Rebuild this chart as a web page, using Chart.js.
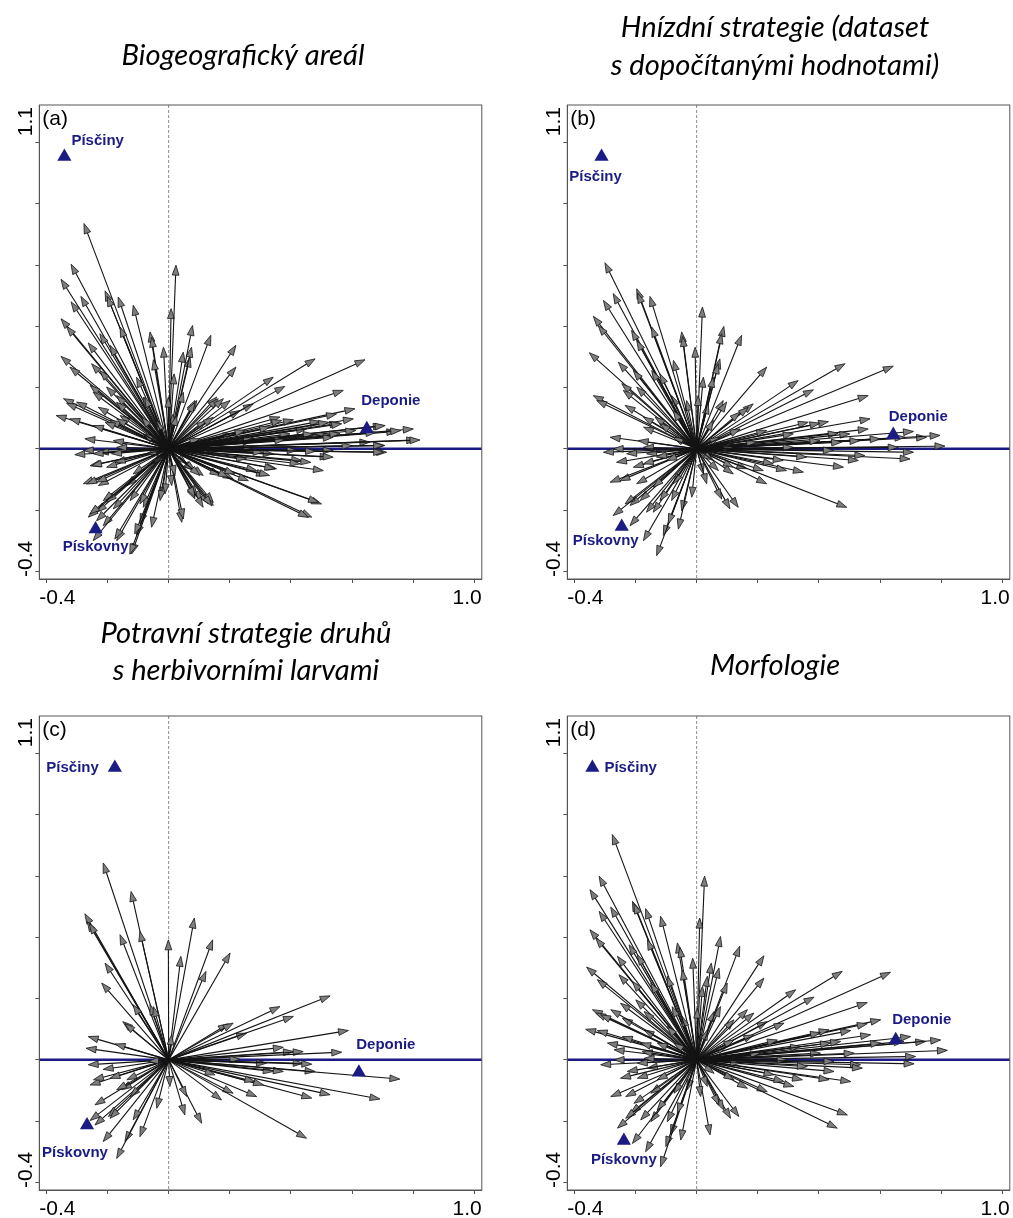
<!DOCTYPE html>
<html>
<head>
<meta charset="utf-8">
<script src="https://cdn.jsdelivr.net/npm/chart.js@4.4.1/dist/chart.umd.min.js"></script>
<style>
  html, body { margin: 0; padding: 0; background: #fff; overflow: hidden; }
  #wrap { position: relative; width: 1013px; height: 1218px; overflow: hidden; }
  canvas { position: absolute; }
</style>
</head>
<body>
<div id="wrap">
  <canvas id="pa" width="490" height="610" style="left:0;top:0"></canvas>
  <canvas id="pb" width="490" height="610" style="left:528px;top:0"></canvas>
  <canvas id="pc" width="490" height="607" style="left:0;top:611px"></canvas>
  <canvas id="pd" width="490" height="607" style="left:528px;top:611px"></canvas>
</div>
<script>
// hodnoty (skóre druhů = konce šipek, skóre stanovišť)
const tickValues = [-0.4, -0.2, 0, 0.2, 0.4, 0.6, 0.8, 1.0];
const xTickLabels = ['-0.4', '1.0'];
const yTickLabels = ['-0.4', '1.1'];
const siteNames = ['Písčiny', 'Deponie', 'Pískovny'];

const sitesA = [[-0.341, 0.954], [0.648, 0.065], [-0.239, -0.262]];
const sitesB = [[-0.311, 0.954], [0.643, 0.046], [-0.245, -0.254]];
const sitesC = [[-0.176, 0.954], [0.622, -0.041], [-0.267, -0.213]];
const sitesD = [[-0.341, 0.954], [0.651, 0.065], [-0.238, -0.264]];

const arrowsA = [
  [-0.277, 0.736], [-0.319, 0.603], [-0.352, 0.554], [-0.319, 0.480], [-0.287, 0.498],
  [-0.352, 0.425], [-0.334, 0.400], [-0.352, 0.302], [-0.323, 0.267], [-0.263, 0.346],
  [-0.252, 0.278], [-0.225, 0.376], [-0.192, 0.338], [-0.208, 0.516], [-0.201, 0.498],
  [-0.165, 0.496], [-0.159, 0.398], [-0.116, 0.469], [-0.061, 0.382], [-0.056, 0.365],
  [-0.017, 0.332], [-0.050, 0.291], [0.008, 0.458], [0.024, 0.600], [0.078, 0.403],
  [0.048, 0.316], [0.070, 0.300], [0.075, 0.332], [0.138, 0.371], [0.220, 0.338],
  [0.220, 0.267], [-0.257, 0.207], [-0.225, 0.256], [-0.203, 0.202], [-0.170, 0.174],
  [-0.083, 0.169], [-0.105, 0.234], [-0.001, 0.169], [0.015, 0.114], [0.092, 0.158],
  [0.157, 0.169], [0.201, 0.158], [0.233, 0.125], [0.277, 0.147], [0.342, 0.234],
  [0.380, 0.204], [0.479, 0.294], [0.642, 0.291], [0.571, 0.191], [0.609, 0.131],
  [0.549, 0.114], [0.364, 0.104], [0.408, 0.095], [0.495, 0.090], [0.560, 0.084],
  [0.702, 0.076], [0.746, 0.057], [0.800, 0.065], [0.658, 0.022], [0.811, 0.029],
  [0.707, 0.011], [0.713, -0.011], [0.451, 0.065], [0.397, 0.049], [0.473, 0.044],
  [0.538, -0.005], [0.528, -0.027], [0.435, -0.038], [0.506, -0.071], [0.353, -0.065],
  [0.320, -0.087], [0.288, -0.071], [0.211, -0.098], [0.168, -0.087], [0.500, -0.180],
  [0.468, -0.223], [0.146, -0.185], [0.130, -0.180], [0.108, -0.169], [0.092, -0.153],
  [0.043, -0.240], [0.010, -0.120], [0.081, -0.071], [-0.023, -0.158], [-0.012, -0.147],
  [-0.056, -0.256], [-0.083, -0.191], [-0.094, -0.245], [-0.105, -0.283], [-0.121, -0.343],
  [-0.170, -0.300], [-0.126, -0.169], [-0.137, -0.120], [-0.181, -0.196], [-0.214, -0.251],
  [-0.235, -0.207], [-0.263, -0.223], [-0.203, -0.174], [-0.279, -0.114], [-0.230, -0.120],
  [-0.257, -0.055], [-0.203, -0.060], [-0.175, -0.044], [-0.274, 0.033], [-0.181, 0.027],
  [-0.279, -0.005], [-0.230, -0.011], [-0.170, 0.005], [-0.368, 0.109], [-0.323, 0.098],
  [-0.344, 0.164], [-0.334, 0.149], [-0.301, 0.153], [-0.192, 0.093], [-0.159, 0.109],
  [-0.246, 0.076], [-0.083, 0.049], [0.102, 0.033], [0.146, -0.016], [0.059, -0.049],
  [-0.050, -0.049], [-0.072, -0.016], [0.124, 0.093], [0.211, 0.049], [0.277, 0.005],
  [0.342, -0.016], [0.255, -0.033], [-0.039, 0.093], [-0.116, -0.082], [0.277, 0.038],
  [0.018, 0.245], [-0.247, 0.185], [-0.170, 0.152], [-0.230, 0.136], [-0.208, 0.087],
  [-0.170, 0.098], [-0.078, 0.169], [0.086, 0.158], [0.162, 0.164], [0.048, 0.185],
  [-0.088, 0.103], [0.026, 0.109], [0.179, 0.164], [0.086, 0.152], [0.146, 0.103],
  [0.604, 0.098], [0.370, 0.093], [0.523, 0.087], [0.566, 0.082], [0.708, 0.076],
  [0.759, 0.060], [0.612, 0.060], [0.678, 0.054], [0.822, 0.029], [0.703, 0.011],
  [0.538, 0.038], [0.473, 0.049], [0.331, 0.071], [0.703, -0.011], [0.538, -0.027],
  [0.309, -0.011], [0.465, -0.044], [0.430, -0.049], [0.490, -0.175], [0.457, -0.224],
  [0.347, -0.065], [0.330, -0.087], [0.261, -0.104], [0.217, -0.082], [0.113, -0.087],
  [0.146, -0.175], [0.113, -0.191], [0.086, -0.164], [0.048, -0.229], [0.021, -0.087],
  [0.086, -0.071], [0.420, -0.005], [0.480, -0.008], [-0.307, -0.019], [-0.247, -0.016],
  [-0.187, -0.016], [-0.252, -0.055], [-0.268, -0.115], [-0.236, -0.109], [-0.214, -0.169],
  [-0.258, -0.213], [-0.236, -0.235], [-0.247, -0.300], [-0.176, -0.294], [-0.127, -0.344],
  [-0.111, -0.278], [-0.028, -0.169], [-0.094, -0.180], [0.086, -0.158], [0.141, -0.186],
  [0.102, -0.087], [0.195, -0.093], [0.250, 0.060], [0.380, 0.030], [0.600, 0.010],
  [0.560, 0.050]
];

const arrowsB = [
  [-0.300, 0.608], [-0.196, 0.523], [-0.193, 0.509], [-0.153, 0.498], [-0.273, 0.507],
  [-0.305, 0.485], [-0.338, 0.433], [-0.322, 0.403], [-0.351, 0.314], [-0.256, 0.283],
  [-0.213, 0.387], [-0.196, 0.354], [-0.147, 0.398], [-0.207, 0.256], [-0.147, 0.256],
  [-0.245, 0.213], [-0.240, 0.191], [-0.196, 0.202], [-0.338, 0.174], [-0.327, 0.158],
  [-0.234, 0.142], [-0.174, 0.104], [-0.136, 0.104], [-0.082, 0.174], [-0.049, 0.382],
  [-0.046, 0.367], [-0.005, 0.332], [0.019, 0.463], [0.089, 0.400], [0.082, 0.376],
  [0.147, 0.371], [0.076, 0.294], [0.071, 0.278], [0.022, 0.234], [0.005, 0.174],
  [0.038, 0.147], [0.087, 0.158], [0.098, 0.153], [0.229, 0.267], [0.332, 0.223],
  [0.382, 0.193], [0.485, 0.278], [0.643, 0.270], [0.561, 0.174], [0.567, 0.098],
  [0.185, 0.147], [0.169, 0.136], [0.142, 0.120], [0.365, 0.087], [0.431, 0.089],
  [0.403, 0.084], [0.561, 0.065], [0.463, 0.051], [0.501, 0.049], [0.709, 0.057],
  [0.752, 0.038], [0.796, 0.044], [0.681, 0.038], [0.600, 0.033], [0.534, 0.027],
  [0.474, 0.022], [0.812, 0.009], [0.659, 0.005], [0.709, -0.011], [0.698, -0.033],
  [0.550, -0.022], [0.529, -0.038], [0.480, -0.060], [0.349, -0.076], [0.294, -0.071],
  [0.283, -0.038], [0.229, -0.114], [0.218, -0.071], [0.164, -0.065], [0.120, -0.060],
  [0.491, -0.191], [0.136, -0.191], [0.109, -0.196], [0.082, -0.164], [0.071, -0.071],
  [0.022, -0.082], [-0.016, -0.158], [-0.049, -0.202], [-0.060, -0.262], [-0.109, -0.283],
  [-0.131, -0.349], [-0.174, -0.300], [-0.093, -0.245], [-0.082, -0.169], [-0.142, -0.207],
  [-0.164, -0.207], [-0.185, -0.169], [-0.218, -0.185], [-0.234, -0.180], [-0.273, -0.218],
  [-0.218, -0.251], [-0.251, -0.104], [-0.283, -0.109], [-0.207, -0.060], [-0.174, -0.049],
  [-0.262, -0.044], [-0.283, 0.038], [-0.191, 0.027], [-0.174, 0.005], [-0.305, -0.011],
  [-0.273, 0.000], [-0.164, -0.016], [-0.076, 0.038], [0.076, 0.038], [0.120, 0.005],
  [0.196, 0.022], [0.055, -0.038], [-0.098, -0.038], [0.316, 0.005],
  [-0.174, 0.071], [-0.120, 0.082], [-0.076, 0.125], [-0.033, 0.158], [0.055, 0.093],
  [0.142, 0.065], [0.229, 0.060], [0.316, 0.049], [0.403, 0.027], [0.447, -0.005],
  [0.360, -0.027], [0.251, -0.049], [0.120, -0.082], [0.033, -0.114], [-0.076, -0.114],
  [-0.142, -0.125], [-0.196, -0.114], [-0.120, -0.169], [-0.229, -0.016], [-0.131, -0.027],
  [-0.120, 0.245], [-0.076, 0.289], [0.055, 0.234]
];

const arrowsC = [
  [-0.214, 0.643], [-0.123, 0.550], [-0.274, 0.477], [-0.266, 0.452], [-0.259, 0.445],
  [-0.159, 0.409], [-0.094, 0.420], [-0.001, 0.392], [0.084, 0.463], [0.144, 0.392],
  [0.040, 0.338], [0.201, 0.349], [0.122, 0.289], [-0.208, 0.316], [-0.219, 0.251],
  [-0.116, 0.180], [-0.061, 0.180], [-0.050, 0.174], [-0.150, 0.125], [-0.143, 0.118],
  [-0.263, 0.076], [-0.270, 0.038], [-0.175, 0.052], [0.010, 0.082], [0.195, 0.118],
  [0.211, 0.120], [0.255, 0.087], [0.364, 0.174], [0.408, 0.142], [0.528, 0.209],
  [0.588, 0.096], [0.375, 0.041], [0.408, 0.027], [0.440, 0.027], [0.566, 0.025],
  [0.233, 0.002], [0.320, -0.011], [0.440, -0.011], [0.468, -0.014], [0.342, -0.038],
  [0.375, -0.038], [0.479, -0.038], [0.756, -0.063], [0.691, -0.128], [0.528, -0.114],
  [0.468, -0.125], [0.288, -0.120], [0.310, -0.082], [0.282, -0.071], [0.211, -0.109],
  [0.173, -0.131], [0.152, -0.049], [0.451, -0.256], [0.108, -0.207], [0.053, -0.180],
  [0.059, -0.120], [0.004, -0.087], [-0.039, -0.158], [-0.094, -0.251], [-0.143, -0.267],
  [-0.170, -0.322], [-0.214, -0.267], [-0.241, -0.213], [-0.257, -0.198], [-0.197, -0.185],
  [-0.154, -0.098], [-0.126, -0.120], [-0.241, -0.147], [-0.257, -0.082], [-0.246, -0.065],
  [-0.192, -0.060], [-0.263, -0.016], [-0.214, -0.031], [-0.066, -0.005], [-0.137, -0.065],
  [-0.170, -0.098], [-0.192, -0.191], [-0.116, -0.196]
];

const arrowsD = [
  [-0.276, 0.736], [-0.319, 0.600], [-0.349, 0.556], [-0.319, 0.485], [-0.281, 0.499],
  [-0.349, 0.425], [-0.330, 0.398], [-0.360, 0.303], [-0.325, 0.262], [-0.210, 0.518],
  [-0.205, 0.510], [-0.167, 0.494], [-0.118, 0.469], [-0.161, 0.392], [-0.221, 0.376],
  [-0.194, 0.343], [-0.259, 0.338], [-0.254, 0.278], [-0.210, 0.256], [-0.063, 0.382],
  [-0.055, 0.368], [-0.047, 0.294], [-0.013, 0.332], [0.026, 0.600], [0.010, 0.463],
  [0.078, 0.403], [0.048, 0.316], [0.073, 0.300], [0.141, 0.371], [0.220, 0.340],
  [0.220, 0.267], [0.019, 0.240], [-0.341, 0.164], [-0.330, 0.153], [-0.314, 0.147],
  [-0.243, 0.136], [-0.199, 0.196], [-0.172, 0.158], [-0.249, 0.185], [-0.080, 0.174],
  [0.002, 0.169], [0.057, 0.158], [0.078, 0.174], [0.122, 0.131], [0.166, 0.164],
  [0.187, 0.153], [0.231, 0.125], [0.324, 0.229], [0.384, 0.205], [0.476, 0.289],
  [0.634, 0.286], [0.558, 0.187], [0.602, 0.131], [0.558, 0.118], [0.504, 0.096],
  [0.433, 0.098], [0.405, 0.089], [0.569, 0.082], [0.700, 0.076], [0.749, 0.060],
  [0.798, 0.065], [0.678, 0.060], [0.602, 0.055], [0.471, 0.060], [0.820, 0.031],
  [0.716, 0.011], [0.711, -0.013], [0.536, -0.016], [0.542, -0.027], [0.504, -0.071],
  [0.449, -0.038], [0.433, -0.065], [0.346, -0.065], [0.318, -0.087], [0.286, -0.071],
  [0.231, -0.104], [0.166, -0.093], [0.493, -0.180], [0.460, -0.223], [0.138, -0.185],
  [0.111, -0.191], [0.089, -0.164], [0.073, -0.147], [0.044, -0.245], [0.013, -0.120],
  [-0.031, -0.098], [-0.052, -0.262], [-0.085, -0.245], [-0.101, -0.283], [-0.118, -0.349],
  [-0.167, -0.300], [-0.096, -0.202], [-0.150, -0.202], [-0.183, -0.196], [-0.216, -0.174],
  [-0.232, -0.191], [-0.259, -0.223], [-0.210, -0.273], [-0.281, -0.120], [-0.232, -0.120],
  [-0.249, -0.060], [-0.194, -0.060], [-0.270, 0.033], [-0.178, 0.027], [-0.314, -0.016],
  [-0.270, 0.000], [-0.172, 0.005], [-0.363, 0.100], [-0.325, 0.096], [-0.172, 0.098],
  [-0.243, 0.076], [-0.292, 0.055], [-0.161, -0.027], [-0.074, 0.055], [0.100, 0.044],
  [0.144, -0.011], [0.057, -0.044], [0.209, 0.022], [0.296, 0.000], [-0.129, -0.065],
  [-0.183, 0.055], [-0.129, 0.055], [-0.096, 0.109], [-0.047, 0.142], [0.035, 0.098],
  [0.122, 0.065], [0.187, 0.082], [0.264, 0.065], [0.340, 0.044], [0.405, 0.022],
  [0.449, -0.005], [0.362, -0.022], [0.253, -0.049], [0.122, -0.065], [0.035, -0.087],
  [-0.074, -0.109], [-0.150, -0.109], [-0.205, -0.142], [-0.129, -0.164], [-0.063, -0.174],
  [-0.194, -0.011], [-0.227, -0.038], [-0.281, 0.164], [-0.150, 0.251], [-0.096, 0.273],
  [0.035, 0.273], [0.100, 0.251], [0.286, 0.120], [0.438, 0.055], [0.515, 0.022]
];

// vzhled
const NAVY = '#1b1b84';
const TEXT_FONT = '"Liberation Sans", Arial, sans-serif';

function fitTitleSize() {
  const c = document.createElement('canvas').getContext('2d');
  c.font = 'italic 100px Lato';
  const w = c.measureText('Biogeografický areál').width;
  return 100 * 243 / w;
}
const titleSize = fitTitleSize();

const biplotPlugin = {
  id: 'biplot',
  beforeDatasetsDraw(chart) {
    const { ctx, chartArea: a, scales: { x, y } } = chart;
    const x0 = x.getPixelForValue(0);
    const y0 = y.getPixelForValue(0);
    ctx.save();
    // svislá osa
    ctx.strokeStyle = '#8c8c8c';
    ctx.lineWidth = 1;
    ctx.setLineDash([3, 2]);
    ctx.beginPath();
    ctx.moveTo(x0, a.top);
    ctx.lineTo(x0, a.bottom);
    ctx.stroke();
    ctx.setLineDash([]);
    // vodorovná osa
    ctx.strokeStyle = NAVY;
    ctx.lineWidth = 2.5;
    ctx.beginPath();
    ctx.moveTo(a.left, y0);
    ctx.lineTo(a.right, y0);
    ctx.stroke();
    // šipky druhů
    chart.data.datasets[0].data.forEach(p => {
      const px = x.getPixelForValue(p.x);
      const py = y.getPixelForValue(p.y);
      const ang = Math.atan2(py - y0, px - x0);
      const len = 10, hw = 3.4;
      const bx = px - Math.cos(ang) * len;
      const by = py - Math.sin(ang) * len;
      ctx.strokeStyle = '#141414';
      ctx.lineWidth = 1.1;
      ctx.beginPath();
      ctx.moveTo(x0, y0);
      ctx.lineTo(bx, by);
      ctx.stroke();
      ctx.beginPath();
      ctx.moveTo(px, py);
      ctx.lineTo(bx - Math.sin(ang) * hw, by + Math.cos(ang) * hw);
      ctx.lineTo(bx + Math.sin(ang) * hw, by - Math.cos(ang) * hw);
      ctx.closePath();
      ctx.fillStyle = '#7e7e7e';
      ctx.fill();
      ctx.lineWidth = 0.8;
      ctx.stroke();
    });
    ctx.restore();
  },
  afterDraw(chart, args, opts) {
    const { ctx, chartArea: a } = chart;
    ctx.save();
    // rámeček
    ctx.strokeStyle = '#555';
    ctx.lineWidth = 1;
    ctx.strokeRect(a.left, a.top, a.right - a.left, a.bottom - a.top);

    // popisky os
    ctx.fillStyle = '#000';
    ctx.font = '21px ' + TEXT_FONT;
    ctx.textBaseline = 'alphabetic';
    ctx.textAlign = 'left';
    ctx.fillText(xTickLabels[0], a.left, a.bottom + 25);
    ctx.textAlign = 'right';
    ctx.fillText(xTickLabels[1], a.right, a.bottom + 25);
    ctx.save();
    ctx.translate(a.left - 7, a.bottom);
    ctx.rotate(-Math.PI / 2);
    ctx.textAlign = 'left';
    ctx.fillText(yTickLabels[0], 2, 0);
    ctx.restore();
    ctx.save();
    ctx.translate(a.left - 7, a.top);
    ctx.rotate(-Math.PI / 2);
    ctx.textAlign = 'right';
    ctx.fillText(yTickLabels[1], -2, 0);
    ctx.restore();

    // písmeno panelu
    ctx.textAlign = 'left';
    ctx.fillText(opts.letter, a.left + 3, a.top + 20);

    // nadpis
    ctx.font = 'italic ' + titleSize.toFixed(2) + 'px Lato';
    ctx.textAlign = 'center';
    opts.title.forEach((line, i) => {
      ctx.fillText(line, opts.titleX, opts.titleY[i]);
    });

    // stanoviště
    const sx = chart.scales.x, sy = chart.scales.y;
    ctx.font = 'bold 15px ' + TEXT_FONT;
    ctx.fillStyle = NAVY;
    ctx.textBaseline = 'middle';
    chart.data.datasets[1].data.forEach((p, i) => {
      const pos = opts.labelPos[i];
      ctx.textAlign = pos[2];
      ctx.fillText(siteNames[i], sx.getPixelForValue(p.x) + pos[0], sy.getPixelForValue(p.y) + pos[1]);
    });
    ctx.restore();
  }
};

function axisOpts(isX) {
  return {
    type: 'linear',
    min: isX ? -0.423 : -0.425,
    max: isX ? 1.024 : 1.123,
    afterBuildTicks: s => { s.ticks = tickValues.map(v => ({ value: v })); },
    afterFit: s => { if (isX) s.height = 6; else s.width = 6; },
    ticks: { display: false },
    grid: { drawOnChartArea: false, drawTicks: true, tickLength: 4, color: '#555', lineWidth: 1 },
    border: { display: true, color: '#555', width: 1 }
  };
}

function makePanel(id, arrows, sites, cfg) {
  const canvas = document.getElementById(id);
  return new Chart(canvas, {
    type: 'scatter',
    data: {
      datasets: [
        {
          label: 'druhy',
          data: arrows.map(([x, y]) => ({ x, y })),
          pointRadius: 0,
          pointHoverRadius: 0
        },
        {
          label: 'stanoviště',
          data: sites.map(([x, y]) => ({ x, y })),
          pointStyle: 'triangle',
          pointRadius: 8.2,
          pointHoverRadius: 8.2,
          backgroundColor: NAVY,
          borderColor: NAVY,
          borderWidth: 0
        }
      ]
    },
    options: {
      responsive: false,
      animation: false,
      events: [],
      layout: { padding: { left: 33.3, right: canvas.width - 486.4, top: 105, bottom: canvas.height - 579 - 6 } },
      plugins: {
        legend: { display: false },
        tooltip: { enabled: false },
        biplot: cfg
      },
      scales: { x: axisOpts(true), y: axisOpts(false) }
    },
    plugins: [biplotPlugin]
  });
}

makePanel('pa', arrowsA, sitesA, {
  letter: '(a)',
  title: ['Biogeografický areál'],
  titleX: 243, titleY: [65],
  labelPos: [[7, -16, 'left'], [24, -28, 'center'], [0, 18, 'center']]
});
makePanel('pb', arrowsB, sitesB, {
  letter: '(b)',
  title: ['Hnízdní strategie (dataset', 's dopočítanými hodnotami)'],
  titleX: 247, titleY: [37, 75],
  labelPos: [[-6, 20, 'center'], [25, -18, 'center'], [-16, 14, 'center']]
});
makePanel('pc', arrowsC, sitesC, {
  letter: '(c)',
  title: ['Potravní strategie druhů', 's herbivorními larvami'],
  titleX: 246, titleY: [32, 69],
  labelPos: [[-16, 0, 'right'], [27, -28, 'center'], [-12, 28, 'center']]
});
makePanel('pd', arrowsD, sitesD, {
  letter: '(d)',
  title: ['Morfologie'],
  titleX: 247, titleY: [64],
  labelPos: [[12, 0, 'left'], [26, -20, 'center'], [0, 19, 'center']]
});
</script>
</body>
</html>
